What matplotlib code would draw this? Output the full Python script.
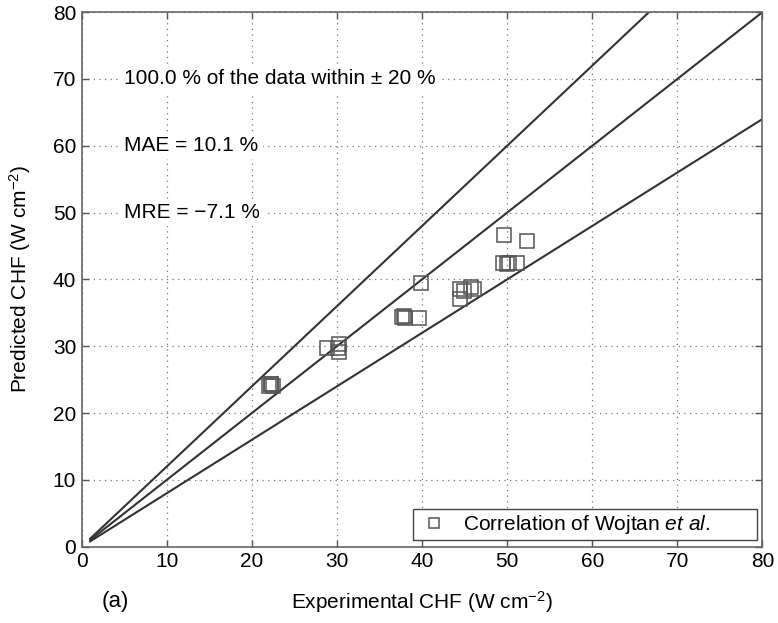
import matplotlib
matplotlib.use("Agg")
import matplotlib.pyplot as plt
import numpy as np

# Data
exp_chf = [22.0, 22.3, 22.5, 22.2, 28.8, 30.2, 30.2, 30.1, 37.7, 37.9, 38.0, 39.6, 39.9,
           44.4, 44.4, 44.9, 45.8, 46.1, 49.6, 52.3, 49.5, 50.2, 51.2, 50.0]
pred_chf = [24.0, 24.3, 24.0, 24.4, 29.7, 30.3, 29.2, 29.8, 34.4, 34.5, 34.3, 34.3, 39.5,
            38.5, 37.0, 38.3, 38.9, 38.5, 46.7, 45.8, 42.4, 42.4, 42.5, 42.3]
ref_factors = [1.2, 1.0, 0.8]
ref_x = [1, 80]
ticks = [0, 10, 20, 30, 40, 50, 60, 70, 80]

fam = ['Liberation Sans', 'DejaVu Sans']
plt.rcParams['font.family'] = fam
plt.rcParams['mathtext.fontset'] = 'custom'
plt.rcParams['mathtext.rm'] = 'Liberation Sans'
plt.rcParams['mathtext.it'] = 'Liberation Sans:italic'

fig = plt.figure(figsize=(7.78, 6.23), dpi=100)
ax = fig.add_axes([0.105, 0.1225, 0.875, 0.858])

fs = 15
for f in ref_factors:
    ax.plot(ref_x, [f * v for v in ref_x], color='#333333', lw=1.5, zorder=2)

ax.plot(exp_chf, pred_chf, linestyle='none', marker='s', markersize=10,
        markerfacecolor='none', markeredgecolor='#555555', markeredgewidth=1.1,
        label=r'Correlation of Wojtan $\mathit{et\ al.}$', zorder=3)

ax.set_xlim(0, 80)
ax.set_ylim(0, 80)
ax.set_xticks(ticks)
ax.set_yticks(ticks)
ax.tick_params(direction='in', top=True, right=True, length=5, width=1,
               color='#555555', labelsize=fs, pad=4)
ax.grid(True, linestyle=(0, (1, 3.5)), color='#777777', linewidth=0.9)
ax.set_axisbelow(True)
for s in ax.spines.values():
    s.set_color('#666666')
    s.set_linewidth(1.2)

bb = dict(facecolor='white', edgecolor='none', pad=3)
ax.text(5.0, 70, '100.0 % of the data within \u00b1 20 %', fontsize=fs, va='center', ha='left',
        bbox=bb, zorder=4)
ax.text(5.0, 60, 'MAE = 10.1 %', fontsize=fs, va='center', ha='left', bbox=bb, zorder=4)
ax.text(5.0, 50, 'MRE = \u22127.1 %', fontsize=fs, va='center', ha='left', bbox=bb, zorder=4)

leg = ax.legend(loc='lower left', bbox_to_anchor=(0.487, 0.0125, 0.505, 0.058), mode='expand',
                fontsize=fs, frameon=True, fancybox=False, borderpad=0.2, handletextpad=0.6,
                handlelength=1.6, markerscale=0.7, borderaxespad=0)
leg.get_frame().set_edgecolor('#444444')
leg.get_frame().set_linewidth(1.0)
leg.get_frame().set_alpha(1)

ax.set_xlabel('Experimental CHF (W cm$^{-2}$)', fontsize=fs, labelpad=13)
ax.set_ylabel('Predicted CHF (W cm$^{-2}$)', fontsize=fs, labelpad=14)
fig.text(0.13, 0.034, '(a)', fontsize=fs + 1, ha='left', va='center')

fig.savefig('out.png', dpi=100)
